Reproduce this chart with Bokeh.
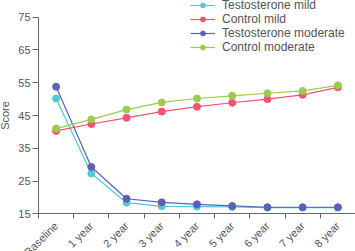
import math
from bokeh.plotting import figure
from bokeh.models import FixedTicker, Legend, LegendItem, Range1d
from bokeh.embed import file_html
from bokeh.resources import INLINE

# Time points on the x axis
periods = ["Baseline", "1 year", "2 year", "3 year", "4 year",
           "5 year", "6 year", "7 year", "8 year"]

# Mean scores per group
testosterone_mild = [50.2, 27.3, 18.4, 17.3, 17.2, 17.1, 16.9, 16.9, 16.9]
control_mild = [40.3, 42.4, 44.3, 46.2, 47.7, 48.9, 50.0, 51.3, 53.6]
testosterone_moderate = [53.8, 29.3, 19.6, 18.5, 17.9, 17.4, 17.0, 17.0, 17.0]
control_moderate = [41.0, 43.8, 46.8, 49.0, 50.2, 51.0, 51.8, 52.5, 54.2]

series = [
    ("Testosterone mild", testosterone_mild, "#52c9d3"),
    ("Control mild", control_mild, "#f2536f"),
    ("Testosterone moderate", testosterone_moderate, "#5b62b4"),
    ("Control moderate", control_moderate, "#9ccb4c"),
]

y_ticks = [15, 25, 35, 45, 55, 65, 75]
Y_MIN, Y_MAX = 15, 75

FONT = "Liberation Sans"
GREY = "#555555"
AXIS = "#666666"

# The frame fills the canvas; the axes sit at fixed data positions inside it
p = figure(width=355, height=251, output_backend="svg", toolbar_location=None,
           x_range=Range1d(-1.079, len(periods)), y_range=Range1d(3.5, 80.1),
           min_border=0)
p.outline_line_color = None
p.grid.visible = False
p.background_fill_color = "white"
p.border_fill_color = "white"

xs = [i + 0.5 for i in range(len(periods))]

items = []
for name, vals, color in series:
    r1 = p.line(xs, vals, line_color=color, line_width=1.2)
    r2 = p.scatter(xs, vals, size=7, fill_color=color, line_color=color)
    items.append(LegendItem(label=name, renderers=[r1, r2]))

# x axis: labels at category centres, tick marks at category boundaries
xa = p.xaxis[0]
xa.fixed_location = Y_MIN
xa.bounds = (0, len(periods))
xa.ticker = FixedTicker(ticks=xs, minor_ticks=list(range(len(periods) + 1)))
xa.major_label_overrides = {x: lab for x, lab in zip(xs, periods)}
xa.major_label_orientation = math.pi / 4
xa.major_tick_out = 0
xa.major_tick_in = 0
xa.minor_tick_out = 5
xa.minor_tick_in = 0
xa.minor_tick_line_color = AXIS
xa.axis_line_color = AXIS
xa.major_label_text_font = FONT
xa.major_label_text_font_size = "11px"
xa.major_label_text_color = GREY
xa.major_label_standoff = 5

ya = p.yaxis[0]
ya.fixed_location = 0
ya.bounds = (Y_MIN, Y_MAX)
ya.ticker = FixedTicker(ticks=y_ticks)
ya.minor_tick_line_color = None
ya.major_tick_out = 6
ya.major_tick_in = 0
ya.major_tick_line_color = AXIS
ya.axis_line_color = AXIS
ya.major_label_text_font = FONT
ya.major_label_text_font_size = "11px"
ya.major_label_text_color = GREY
ya.major_label_standoff = 2
ya.axis_label = "Score"
ya.axis_label_text_font = FONT
ya.axis_label_text_font_size = "11px"
ya.axis_label_text_font_style = "normal"
ya.axis_label_text_color = GREY
ya.axis_label_standoff = 4

legend = Legend(items=items, location=(190, 197),
                background_fill_alpha=0, border_line_color=None,
                label_text_font=FONT, label_text_font_size="12px",
                label_text_color=GREY, glyph_width=25, glyph_height=12,
                label_height=12, spacing=-1, padding=0, margin=0,
                label_standoff=7)
p.add_layout(legend, "center")

open("out.html", "w").write(file_html(p, INLINE))
